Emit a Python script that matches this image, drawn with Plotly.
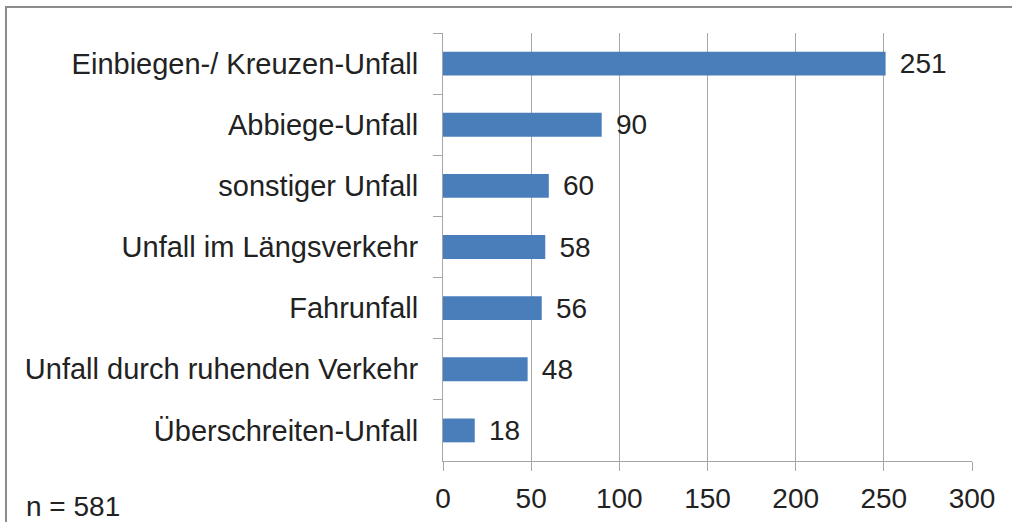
import plotly.graph_objects as go

categories = [
    "Einbiegen-/ Kreuzen-Unfall",
    "Abbiege-Unfall",
    "sonstiger Unfall",
    "Unfall im Längsverkehr",
    "Fahrunfall",
    "Unfall durch ruhenden Verkehr",
    "Überschreiten-Unfall",
]
values = [251, 90, 60, 58, 56, 48, 18]
x_ticks = [0, 50, 100, 150, 200, 250, 300]
note = "n = 581"

FONT = "Liberation Sans, Arial, sans-serif"
TXT = "#222222"
GRID = "#a6a6a6"

fig = go.Figure(
    go.Bar(
        x=values,
        y=categories,
        orientation="h",
        marker=dict(color="#4a7ebb", line=dict(width=0)),
        text=values,
        texttemplate="\u2009\u2009%{x}",
        textposition="outside",
        constraintext="none",
        textfont=dict(family=FONT, size=28, color=TXT),
        cliponaxis=False,
    )
)

fig.update_layout(
    width=1012,
    height=522,
    margin=dict(l=443, r=40, t=33, b=61, autoexpand=False),
    paper_bgcolor="white",
    plot_bgcolor="white",
    bargap=0.61,
    showlegend=False,
    font=dict(family=FONT, size=28, color=TXT),
    xaxis=dict(
        range=[0, 300],
        tickvals=x_ticks,
        showgrid=True,
        gridcolor=GRID,
        gridwidth=1,
        zeroline=False,
        showline=True,
        linecolor=GRID,
        linewidth=1,
        ticks="outside",
        ticklen=9,
        tickcolor=GRID,
        tickfont=dict(family=FONT, size=28, color=TXT),
        ticklabelstandoff=3,
        automargin=False,
        fixedrange=True,
    ),
    yaxis=dict(
        categoryorder="array",
        categoryarray=categories,
        range=[6.5, -0.5],
        showgrid=False,
        zeroline=False,
        showline=True,
        linecolor=GRID,
        linewidth=1,
        ticks="outside",
        tickson="boundaries",
        ticklen=9,
        tickcolor=GRID,
        tickfont=dict(family=FONT, size=29, color=TXT),
        ticklabelstandoff=18,
        automargin=False,
        fixedrange=True,
    ),
    shapes=[
        dict(
            type="rect",
            xref="paper",
            yref="paper",
            x0=(6 - 443) / 428 * 428 / 529,
            x1=(1030 - 443) / 529,
            y0=(461 - 540) / 428,
            y1=(461 - 7) / 428,
            line=dict(color="#8c8c8c", width=2),
            fillcolor="rgba(0,0,0,0)",
            layer="below",
        )
    ],
    annotations=[
        dict(
            text=note,
            xref="paper",
            yref="paper",
            x=(24 - 443) / 529,
            y=(461 - 506) / 428,
            xanchor="left",
            yanchor="middle",
            showarrow=False,
            font=dict(family=FONT, size=28, color=TXT),
        )
    ],
)

fig.write_html(
    "out.html",
    config={"displayModeBar": False},
    post_script="document.body.style.margin='0';document.body.style.overflow='hidden';",
)
